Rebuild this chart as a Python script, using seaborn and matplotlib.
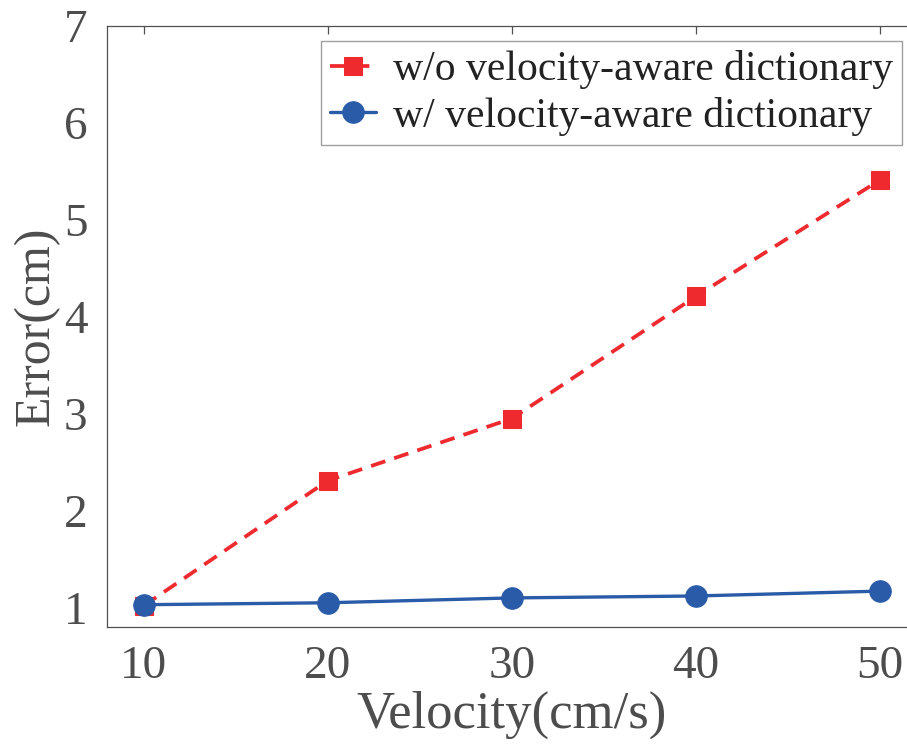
import matplotlib
matplotlib.use("Agg")
import matplotlib.pyplot as plt
import seaborn as sns
import pandas as pd

velocity = [10, 20, 30, 40, 50]
err_without = [1.02, 2.31, 2.95, 4.21, 5.41]
err_with = [1.03, 1.05, 1.10, 1.12, 1.17]
label_without = "w/o velocity-aware dictionary"
label_with = "w/ velocity-aware dictionary"
x_ticks = [10, 20, 30, 40, 50]
y_ticks = [1, 2, 3, 4, 5, 6, 7]

sns.set_theme(style="white")
plt.rcParams["font.family"] = ["Liberation Serif", "DejaVu Serif"]
plt.rcParams["mathtext.fontset"] = "stix"

RED = "#EE2A2E"
BLUE = "#2A5BA8"
GRAY = "#505050"

fig = plt.figure(figsize=(9.07, 7.51), dpi=100)
ax = fig.add_axes([107 / 907, (751 - 627) / 751, (916.5 - 107) / 907, (627 - 26) / 751])

df_wo = pd.DataFrame({"v": velocity, "e": err_without})
df_w = pd.DataFrame({"v": velocity, "e": err_with})

sns.lineplot(data=df_wo, x="v", y="e", ax=ax, color=RED, marker="s",
             markersize=13.5, markeredgecolor=RED, linewidth=2.7,
             label=label_without)
ax.lines[-1].set_dashes([4, 2.5])
sns.lineplot(data=df_w, x="v", y="e", ax=ax, color=BLUE, marker="o",
             markersize=15.5, markeredgecolor=BLUE, linewidth=2.4,
             label=label_with)

ax.set_xlim(8, 52)
ax.set_ylim(0.8, 7)
ax.set_xticks(x_ticks)
ax.set_yticks(y_ticks)

ax.tick_params(axis="both", which="both", direction="in", length=6,
               width=0.9, color=GRAY, labelcolor="#4d4d4d", labelsize=34,
               top=True, right=True)
ax.tick_params(axis="x", pad=13)
ax.tick_params(axis="y", pad=14)
for s in ax.spines.values():
    s.set_color(GRAY)
    s.set_linewidth(0.9)

ax.set_xlabel("Velocity(cm/s)", fontsize=38, color="#4d4d4d", labelpad=2)
ax.set_ylabel("Error(cm)", fontsize=36, color="#4d4d4d", labelpad=3)

leg = ax.legend(loc="upper right", bbox_to_anchor=((902 - 107) / 809.5, (627 - 41) / 601),
                fontsize=30, frameon=True, fancybox=False, handlelength=1.1,
                handletextpad=0.4, borderpad=0.22, labelspacing=0.18,
                borderaxespad=0)
leg.get_frame().set_edgecolor("#888888")
leg.get_frame().set_linewidth(1.0)
for t in leg.get_texts():
    t.set_color("#222222")

fig.savefig("out.png", dpi=100)
